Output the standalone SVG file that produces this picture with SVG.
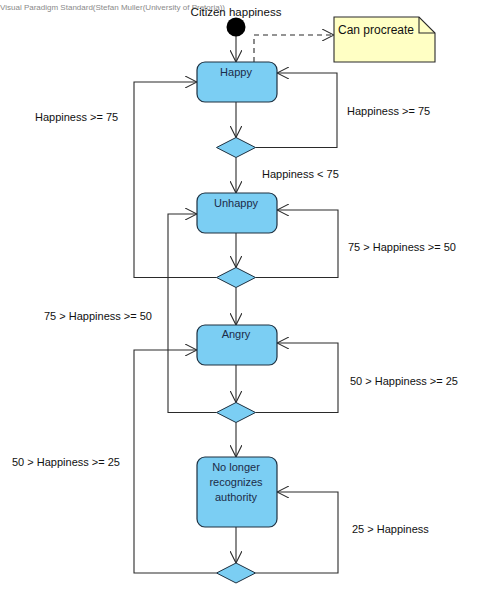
<svg xmlns="http://www.w3.org/2000/svg" width="497" height="595" viewBox="0 0 497 595">
<style>
.bg{fill:#ffffff}
.state{fill:#7bcef3;stroke:#1e3040;stroke-width:1.2}
.dec{fill:#7bcef3;stroke:#1e3040;stroke-width:1}
.st{font-family:"Liberation Sans",Arial,sans-serif;font-size:11px;fill:#1c2c48;text-anchor:middle}
.lbl{font-family:"Liberation Sans",Arial,sans-serif;font-size:11px;fill:#111}
.conn{fill:none;stroke:#2a2a2a;stroke-width:1.1}
.dash{stroke-dasharray:5,4}
.note{fill:#ffffc4;stroke:#2a2a2a;stroke-width:1.1}
.wm{font-family:"Liberation Sans",Arial,sans-serif;font-size:8px;fill:#8a8a8a}
</style>
<defs>
<marker id="arr" viewBox="0 0 12 12" refX="12" refY="6" markerWidth="12" markerHeight="12" markerUnits="userSpaceOnUse" orient="auto">
<path d="M0,0 L12,6 L0,12" fill="none" stroke="#2a2a2a" stroke-width="1.1"/>
</marker>
</defs>
<rect class="bg" x="0" y="0" width="497" height="595"/>
<text class="wm" x="0" y="10" textLength="225" lengthAdjust="spacingAndGlyphs">Visual Paradigm Standard(Stefan Muller(University of Pretoria))</text>

<g id="connectors">
<path class="conn" d="M236,36 V62" marker-end="url(#arr)"/>
<path class="conn dash" d="M254,62 V35 H334" marker-end="url(#arr)"/>
<path class="conn" d="M236,102 V137.5" marker-end="url(#arr)"/>
<path class="conn" d="M255.5,147.5 H337 V73 H277" marker-end="url(#arr)"/>
<path class="conn" d="M236,157.5 V193" marker-end="url(#arr)"/>
<path class="conn" d="M216.5,277.5 H134 V82 H197" marker-end="url(#arr)"/>
<path class="conn" d="M236,233 V267.5" marker-end="url(#arr)"/>
<path class="conn" d="M255.5,277.5 H338 V210 H277" marker-end="url(#arr)"/>
<path class="conn" d="M236,287.5 V325" marker-end="url(#arr)"/>
<path class="conn" d="M216.5,412.5 H168 V214 H197" marker-end="url(#arr)"/>
<path class="conn" d="M236,365 V402.5" marker-end="url(#arr)"/>
<path class="conn" d="M255.5,412.5 H338 V343 H277" marker-end="url(#arr)"/>
<path class="conn" d="M236,422.5 V457" marker-end="url(#arr)"/>
<path class="conn" d="M216.5,573 H134 V350 H197" marker-end="url(#arr)"/>
<path class="conn" d="M236,527 V563" marker-end="url(#arr)"/>
<path class="conn" d="M255.5,573 H338 V492 H277" marker-end="url(#arr)"/>
</g>

<g id="labels">
<text class="lbl" x="35" y="121">Happiness &gt;= 75</text>
<text class="lbl" x="347" y="115">Happiness &gt;= 75</text>
<text class="lbl" x="262" y="178">Happiness &lt; 75</text>
<text class="lbl" x="348" y="251">75 &gt; Happiness &gt;= 50</text>
<text class="lbl" x="44" y="320">75 &gt; Happiness &gt;= 50</text>
<text class="lbl" x="350" y="385">50 &gt; Happiness &gt;= 25</text>
<text class="lbl" x="12" y="466">50 &gt; Happiness &gt;= 25</text>
<text class="lbl" x="352" y="533">25 &gt; Happiness</text>
</g>

<g id="initial">
<circle cx="236" cy="27" r="9.5" fill="#000"/>
<text class="lbl" x="236" y="16" text-anchor="middle" style="font-size:11.5px">Citizen happiness</text>
</g>

<g id="note">
<polygon class="note" points="334,17 419,17 435,33 435,62 334,62"/>
<polyline points="419,17 419,33 435,33" fill="none" stroke="#2a2a2a" stroke-width="1.1"/>
<text class="lbl" x="338" y="34" style="font-size:12px">Can procreate</text>
</g>

<g id="happy">
<rect class="state" x="197" y="62" width="80" height="40" rx="8"/>
<text class="st" x="236" y="75.5">Happy</text>
</g>
<g id="unhappy">
<rect class="state" x="197" y="193" width="80" height="40" rx="8"/>
<text class="st" x="236" y="207">Unhappy</text>
</g>
<g id="angry">
<rect class="state" x="197" y="325" width="80" height="40" rx="8"/>
<text class="st" x="236" y="338">Angry</text>
</g>
<g id="nolonger">
<rect class="state" x="197" y="457" width="80" height="70" rx="8"/>
<text class="st" x="236" y="471">No longer</text>
<text class="st" x="236" y="486">recognizes</text>
<text class="st" x="236" y="501">authority</text>
</g>

<g id="d1"><polygon class="dec" points="216.5,147.5 236,137.5 255.5,147.5 236,157.5"/></g>
<g id="d2"><polygon class="dec" points="216.5,277.5 236,267.5 255.5,277.5 236,287.5"/></g>
<g id="d3"><polygon class="dec" points="216.5,412.5 236,402.5 255.5,412.5 236,422.5"/></g>
<g id="d4"><polygon class="dec" points="216.5,573 236,563 255.5,573 236,583"/></g>
</svg>
